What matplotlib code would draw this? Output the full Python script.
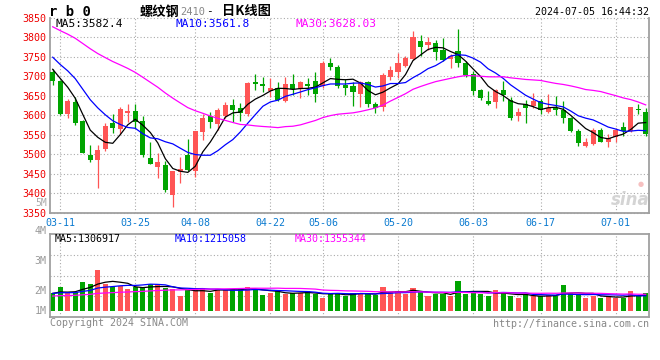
import numpy as np
import pandas as pd
import matplotlib
matplotlib.use('Agg')
import matplotlib.pyplot as plt

# ---------------- data ----------------
dates = ['03-08',
         '03-11', '03-12', '03-13', '03-14', '03-15',
         '03-18', '03-19', '03-20', '03-21', '03-22',
         '03-25', '03-26', '03-27', '03-28', '03-29',
         '04-01', '04-02', '04-03',
         '04-08', '04-09', '04-10', '04-11', '04-12',
         '04-15', '04-16', '04-17', '04-18', '04-19',
         '04-22', '04-23', '04-24', '04-25', '04-26',
         '04-29', '04-30',
         '05-06', '05-07', '05-08', '05-09', '05-10',
         '05-13', '05-14', '05-15', '05-16', '05-17',
         '05-20', '05-21', '05-22', '05-23', '05-24',
         '05-27', '05-28', '05-29', '05-30', '05-31',
         '06-03', '06-04', '06-05', '06-06', '06-07',
         '06-11', '06-12', '06-13', '06-14',
         '06-17', '06-18', '06-19', '06-20', '06-21',
         '06-24', '06-25', '06-26', '06-27', '06-28',
         '07-01', '07-02', '07-03', '07-04', '07-05']

opens = [3712, 3688, 3603, 3633, 3585, 3498, 3485, 3514, 3580, 3565,
         3607, 3611, 3585, 3490, 3468, 3473, 3396, 3454, 3498, 3457,
         3556, 3597, 3578, 3598, 3627, 3618, 3603, 3685, 3679, 3662,
         3671, 3637, 3680, 3668, 3680, 3688, 3674, 3735, 3723, 3678,
         3675, 3655, 3685, 3628, 3622, 3699, 3710, 3727, 3745, 3791,
         3779, 3785, 3768, 3744, 3765, 3733, 3705, 3665, 3637, 3635,
         3665, 3639, 3597, 3628, 3625, 3637, 3608, 3618, 3614, 3594,
         3560, 3522, 3527, 3562, 3531, 3545, 3571, 3560, 3616, 3609]
highs = [3718, 3690, 3642, 3648, 3587, 3524, 3524, 3580, 3603, 3622,
         3628, 3628, 3597, 3532, 3503, 3483, 3457, 3494, 3539, 3560,
         3603, 3608, 3620, 3635, 3642, 3631, 3686, 3705, 3697, 3695,
         3686, 3697, 3705, 3688, 3695, 3710, 3738, 3746, 3729, 3693,
         3686, 3688, 3688, 3633, 3708, 3727, 3761, 3753, 3815, 3806,
         3802, 3793, 3799, 3756, 3821, 3739, 3714, 3668, 3662, 3668,
         3688, 3648, 3618, 3639, 3656, 3642, 3654, 3650, 3637, 3596,
         3565, 3543, 3567, 3567, 3551, 3567, 3582, 3621, 3628, 3618]
lows = [3678, 3601, 3594, 3575, 3503, 3481, 3413, 3509, 3554, 3552,
        3584, 3567, 3494, 3474, 3438, 3403, 3366, 3427, 3457, 3442,
        3537, 3568, 3562, 3592, 3584, 3585, 3598, 3665, 3659, 3648,
        3637, 3633, 3652, 3644, 3652, 3633, 3669, 3715, 3669, 3652,
        3625, 3622, 3622, 3605, 3612, 3691, 3695, 3725, 3741, 3753,
        3768, 3742, 3739, 3721, 3725, 3699, 3652, 3639, 3626, 3620,
        3637, 3588, 3585, 3581, 3620, 3603, 3605, 3601, 3579, 3558,
        3522, 3519, 3524, 3531, 3520, 3531, 3548, 3556, 3603, 3548]
closes = [3688, 3603, 3637, 3581, 3504, 3485, 3511, 3573, 3568, 3615,
          3611, 3582, 3497, 3475, 3481, 3409, 3456, 3462, 3460, 3560,
          3594, 3582, 3614, 3627, 3614, 3605, 3682, 3680, 3674, 3671,
          3639, 3680, 3668, 3685, 3674, 3654, 3735, 3723, 3675, 3669,
          3661, 3685, 3628, 3620, 3703, 3716, 3735, 3748, 3800, 3774,
          3787, 3762, 3742, 3753, 3735, 3703, 3662, 3645, 3630, 3665,
          3652, 3594, 3608, 3620, 3637, 3614, 3618, 3614, 3594, 3560,
          3530, 3532, 3562, 3532, 3543, 3562, 3560, 3620, 3614, 3551]
# daily volume, millions of lots
volumes = [1.44, 2.00, 1.44, 1.58, 2.42, 2.25, 3.39, 2.22, 1.94, 2.06,
           1.81, 1.94, 1.86, 2.22, 2.22, 1.86, 1.78, 1.22, 1.72, 1.72,
           1.89, 1.50, 1.81, 1.72, 1.81, 1.86, 1.97, 1.72, 1.31, 1.47,
           1.61, 1.36, 1.50, 1.44, 1.67, 1.39, 1.08, 1.44, 1.50, 1.22,
           1.50, 1.50, 1.39, 1.31, 1.97, 1.58, 1.67, 1.39, 1.89, 1.56,
           1.22, 1.39, 1.39, 1.22, 2.47, 1.39, 1.56, 1.39, 1.22, 1.72,
           1.47, 1.22, 1.08, 1.31, 1.22, 1.22, 1.31, 1.22, 2.14, 1.47,
           1.31, 1.08, 1.22, 1.08, 1.22, 1.08, 1.08, 1.64, 1.22, 1.47]
# sessions before the visible window (inferred from where the MA lines start)
prior_closes = [3900, 3910, 3895, 3905, 3890, 3880, 3885, 3870, 3875, 3880,
                3890, 3870, 3860, 3865, 3850, 3855, 3830, 3820, 3800, 3790,
                3790, 3800, 3780, 3775, 3755, 3720, 3750, 3722, 3710]
prior_volumes = [1.00, 1.10, 1.05, 1.15, 1.10, 1.00, 1.20, 1.10, 1.05, 1.15,
                 1.10, 1.20, 1.10, 1.15, 1.10, 1.05, 1.20, 1.15, 1.10, 1.15,
                 1.45, 1.40, 1.50, 1.40, 1.45, 1.40, 1.50, 1.42, 1.44]

x_tick_labels = ['03-11', '03-25', '04-08', '04-22', '05-06', '05-20',
                 '06-03', '06-17', '07-01']
price_ticks = [3350, 3400, 3450, 3500, 3550, 3600, 3650, 3700, 3750, 3800, 3850]
vol_tick_labels = ['4M', '3M', '2M', '1M']
ma_periods = [5, 10, 30]
price_ma_labels = ['MA5:3582.4', 'MA10:3561.8', 'MA30:3628.03']
vol_ma_labels = ['MA5:1306917', 'MA10:1215058', 'MA30:1355344']
title_code = 'r b 0'
title_name = '螺纹钢'
title_contract = '2410'
title_kind = '日K线图'
timestamp = '2024-07-05 16:44:32'
copyright_text = 'Copyright 2024 SINA.COM'
url_text = 'http://finance.sina.com.cn'

# ---------------- styling ----------------
W, H = 660, 360
RED = '#ff5555'
GREEN = '#00a400'
MA_COLORS = ['#000000', '#0000ff', '#ff00ff']
GRID = '#aaaaaa'
FRAME = '#a0a0a0'
MONO = 'DejaVu Sans Mono'
CJK = ['Noto Sans CJK SC', 'DejaVu Sans']
DOT = (0, (1, 2))

def fx(px):
    return px / W

def fy(py):
    return 1 - py / H

n = len(closes)
x = np.arange(n)
o = np.array(opens, float)
c = np.array(closes, float)
h = np.array(highs, float)
l = np.array(lows, float)
up = c >= o
colors = [RED if u else GREEN for u in up]

all_c = pd.Series(prior_closes + closes, dtype=float)
all_v = pd.Series(prior_volumes + volumes, dtype=float)
npre = len(prior_closes)
price_mas = [all_c.rolling(p).mean().values[npre:] for p in ma_periods]
vol_mas = [all_v.rolling(p).mean().values[npre:] for p in ma_periods]

fig = plt.figure(figsize=(W / 100, H / 100), dpi=100)
fig.patch.set_facecolor('white')

# pixel layout
L, R = 50, 649
P_TOP, P_BOT = 17.8, 212.8
V_TOP, V_BOT = 234, 317.3
ax = fig.add_axes([fx(L), fy(P_BOT), fx(R - L), (P_BOT - P_TOP) / H])
axv = fig.add_axes([fx(L), fy(V_BOT), fx(R - L), (V_BOT - V_TOP) / H])

x0, x1 = -0.36, n - 1 + 0.44
tick_pos = [dates.index(d) for d in x_tick_labels]

# ---------------- price panel ----------------
ax.set_xlim(x0, x1)
ax.set_ylim(price_ticks[0], price_ticks[-1])
for t in price_ticks:
    ax.axhline(t, color=GRID, lw=0.8, ls=DOT, zorder=0, clip_on=False)
for tp in tick_pos:
    ax.axvline(tp, color=GRID, lw=0.8, ls=DOT, zorder=0)

ax.vlines(x, l, h, colors=colors, lw=0.9, zorder=2)
body_h = np.maximum(np.abs(c - o), 1.2)
ax.bar(x, body_h, bottom=np.minimum(o, c), width=0.68, color=colors,
       linewidth=0, zorder=3)
for ma, col in zip(price_mas, MA_COLORS):
    ax.plot(x, ma, color=col, lw=0.9, zorder=4)

ax.set_yticks(price_ticks)
ax.set_yticklabels([str(t) for t in price_ticks])
ax.tick_params(axis='y', length=0, pad=3, labelcolor='#ee0000', labelsize=7.2)
for lab in ax.get_yticklabels():
    lab.set_family(MONO)
ax.set_xticks(tick_pos)
ax.set_xticklabels(x_tick_labels)
ax.tick_params(axis='x', length=0, pad=3.5, labelcolor='#0a7ad0', labelsize=7.2)
for lab in ax.get_xticklabels():
    lab.set_family(MONO)
ax.spines['top'].set_visible(False)
for s in ['left', 'right', 'bottom']:
    ax.spines[s].set_color(FRAME)
    ax.spines[s].set_linewidth(1.3)

# ---------------- volume panel ----------------
axv.set_xlim(x0, x1)
axv.set_ylim(-0.55, 6.39)
for f in [0.25, 0.5, 0.75]:
    axv.plot([0, 1], [f, f], transform=axv.transAxes, color=GRID, lw=0.8,
             ls=DOT, zorder=0)
for tp in tick_pos:
    axv.axvline(tp, color=GRID, lw=0.8, ls=DOT, zorder=0)
axv.bar(x, volumes, width=0.68, color=colors, linewidth=0, zorder=2)
for ma, col in zip(vol_mas, MA_COLORS):
    axv.plot(x, ma, color=col, lw=0.9, zorder=3)
axv.set_xticks([])
axv.set_yticks([])
for s in axv.spines.values():
    s.set_color(FRAME)
    s.set_linewidth(1.3)
vol_label_frac = [1.036, 0.676, 0.316, 0.076]
for lab, fpos in zip(vol_tick_labels, vol_label_frac):
    axv.text(-0.006, fpos, lab, transform=axv.transAxes, ha='right',
             va='center', fontsize=7.2, family=MONO, color='#999999')
fig.text(fx(47), fy(203), '5M', ha='right', va='center', fontsize=7,
         family=MONO, color='#aaaaaa')

# ---------------- legends ----------------
for lab, col, px in zip(price_ma_labels, MA_COLORS, [55, 175, 295]):
    fig.text(fx(px), fy(24), lab, ha='left', va='center', fontsize=8,
             family=MONO, color=col)
for lab, col, px in zip(vol_ma_labels, MA_COLORS, [55, 175, 295]):
    fig.text(fx(px), fy(238.5), lab, ha='left', va='center', fontsize=7.2,
             family=MONO, color=col)

# ---------------- titles & footer ----------------
fig.text(fx(49), fy(11.5), title_code, ha='left', va='center', fontsize=10,
         family=MONO, weight='bold', color='black')
fig.text(fx(140), fy(11.5), title_name, ha='left', va='center', fontsize=9.5,
         family=CJK, weight='bold', color='black')
fig.text(fx(180), fy(12), title_contract, ha='left', va='center', fontsize=7.5,
         family=MONO, color='#888888')
fig.text(fx(206), fy(11.5), '-', ha='left', va='center', fontsize=8,
         family=MONO, color='black')
fig.text(fx(222), fy(11.5), title_kind, ha='left', va='center', fontsize=9.5,
         family=CJK, weight='bold', color='black')
fig.text(fx(649), fy(12), timestamp, ha='right', va='center', fontsize=7.2,
         family=MONO, color='black')
fig.text(fx(50), fy(323.5), copyright_text, ha='left', va='center',
         fontsize=7.2, family=MONO, color='#888888')
fig.text(fx(649), fy(324), url_text, ha='right', va='center',
         fontsize=7.2, family=MONO, color='#888888')
fig.text(fx(630), fy(200), 'sina', ha='center', va='center', fontsize=12,
         style='italic', weight='bold', color='#d4d4d4')
fig.text(fx(641), fy(184), '●', ha='center', va='center', fontsize=5,
         color='#f6c0c0')

fig.savefig('out.png', dpi=100)
